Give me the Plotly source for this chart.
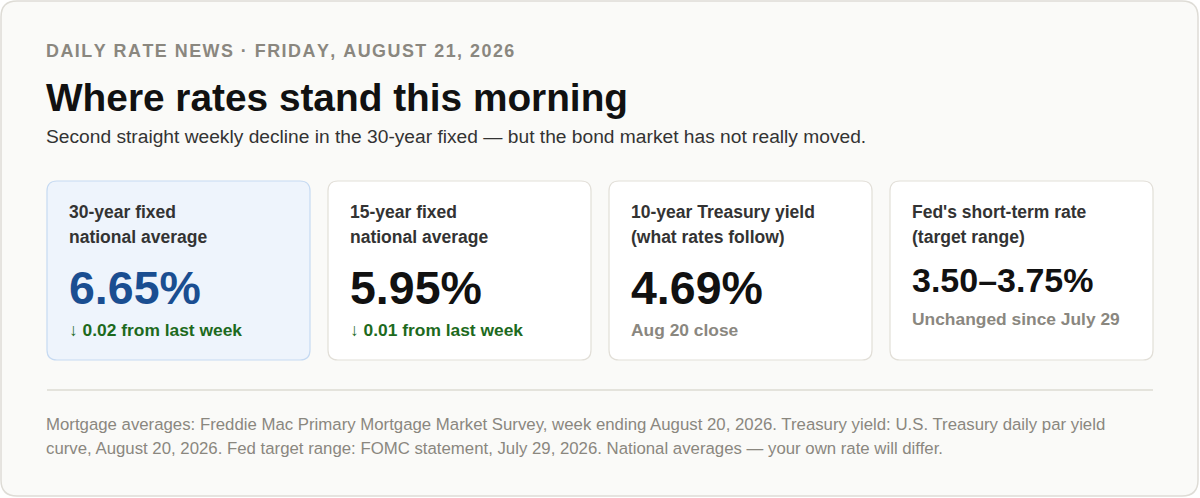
import plotly.graph_objects as go

# data
kicker = "DAILY RATE NEWS · FRIDAY, AUGUST 21, 2026"
title = "Where rates stand this morning"
subtitle = "Second straight weekly decline in the 30-year fixed — but the bond market has not really moved."
card_line1 = ["30-year fixed", "15-year fixed", "10-year Treasury yield", "Fed's short-term rate"]
card_line2 = ["national average", "national average", "(what rates follow)", "(target range)"]
card_values = ["6.65%", "5.95%", "4.69%", "3.50–3.75%"]
card_notes = ["↓ 0.02 from last week", "↓ 0.01 from last week", "Aug 20 close", "Unchanged since July 29"]
note_kind = ["down", "down", "muted", "muted"]
footnote = [
    "Mortgage averages: Freddie Mac Primary Mortgage Market Survey, week ending August 20, 2026. Treasury yield: U.S. Treasury daily par yield",
    "curve, August 20, 2026. Fed target range: FOMC statement, July 29, 2026. National averages — your own rate will differ.",
]

W, H = 1200, 498
FONT = "Liberation Sans, Arial, sans-serif"
MUTED = "#8a877f"


def rounded(x0, y0, x1, y1, r):
    return (f"M{x0+r},{y0} L{x1-r},{y0} Q{x1},{y0} {x1},{y0+r} "
            f"L{x1},{y1-r} Q{x1},{y1} {x1-r},{y1} L{x0+r},{y1} "
            f"Q{x0},{y1} {x0},{y1-r} L{x0},{y0+r} Q{x0},{y0} {x0+r},{y0} Z")


fig = go.Figure()
shapes = []
ann = []

# outer panel
shapes.append(dict(type="path", path=rounded(1, 1, 1198, 496, 16),
                   fillcolor="#fafaf8", line=dict(color="#dedcd6", width=1.5), layer="below"))


def text(x, y, s, size, color, bold=False, anchor="left"):
    ann.append(dict(x=x, y=y, xref="x", yref="y", text=f"<b>{s}</b>" if bold else s,
                    showarrow=False, xanchor=anchor, yanchor="middle",
                    font=dict(family=FONT, size=size, color=color)))


text(44, 51, "\u200a".join(kicker), 17.9, MUTED, bold=True)
text(44, 97, title, 38.8, "#111111", bold=True)
text(44, 136, subtitle, 19.2, "#333333")

card_w, gap, left = 263, 18, 47
for i in range(4):
    x0 = left + i * (card_w + gap)
    x1 = x0 + card_w
    hl = i == 0
    shapes.append(dict(type="path", path=rounded(x0, 181, x1, 360, 10),
                       fillcolor="#eef4fc" if hl else "#ffffff",
                       line=dict(color="#c6daf2" if hl else "#e2dfd8", width=1.2), layer="below"))
    tx = x0 + 20
    text(tx, 212, card_line1[i], 17.5, "#333333", bold=True)
    text(tx, 237, card_line2[i], 17.5, "#333333", bold=True)
    big = card_values[i]
    if len(big) > 6:
        text(tx, 280, big, 34, "#111111", bold=True)
        ny = 319
    else:
        text(tx, 288, big, 46.5, "#1a4e91" if hl else "#111111", bold=True)
        ny = 330
    text(tx, ny, card_notes[i], 17.4, "#1d6a1d" if note_kind[i] == "down" else MUTED, bold=True)

shapes.append(dict(type="line", x0=47, x1=1153, y0=390, y1=390,
                   line=dict(color="#dddbd3", width=1.5)))

text(44, 424, footnote[0], 16.8, MUTED)
text(44, 448, footnote[1], 16.8, MUTED)

fig.update_layout(
    width=W, height=H,
    margin=dict(l=0, r=0, t=0, b=0),
    paper_bgcolor="#ffffff", plot_bgcolor="#ffffff",
    xaxis=dict(range=[0, W], visible=False, fixedrange=True),
    yaxis=dict(range=[H, 0], visible=False, fixedrange=True),
    shapes=shapes, annotations=ann, showlegend=False,
)
fig.write_html("out.html", config={"displayModeBar": False},
               post_script="document.body.style.margin='0';")
